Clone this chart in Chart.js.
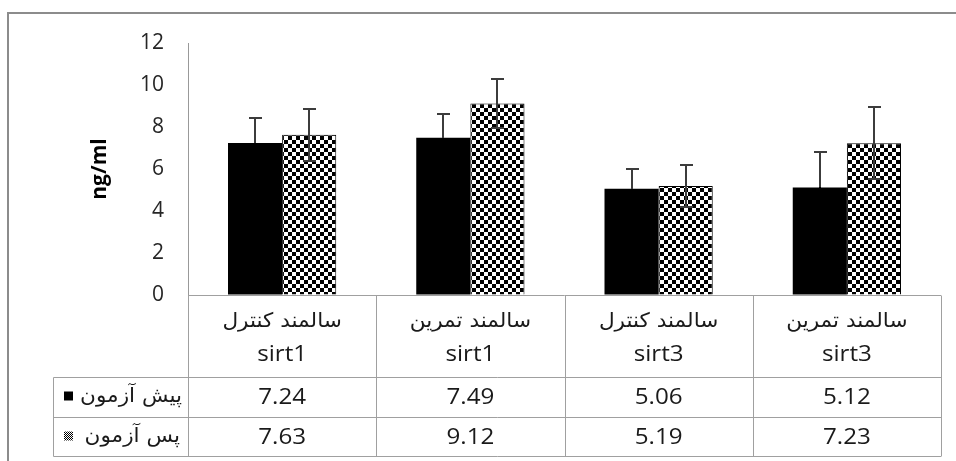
<!DOCTYPE html>
<html>
<head>
<meta charset="utf-8">
<script src="https://cdn.jsdelivr.net/npm/chart.js"></script>
<style>
  body { margin: 0; background: #fff; }
  #wrap { width: 956px; height: 461px; }
</style>
</head>
<body>
<div id="wrap"><canvas id="sirtChart" width="956" height="461"></canvas></div>
<script>
var groupLabels = ["سالمند کنترل", "سالمند تمرین", "سالمند کنترل", "سالمند تمرین"];
var geneLabels = ["sirt1", "sirt1", "sirt3", "sirt3"];
var seriesNames = ["پیش آزمون", "پس آزمون"];
var preValues = [7.24, 7.49, 5.06, 5.12];
var postValues = [7.63, 9.12, 5.19, 7.23];
var preErrors = [1.19, 1.13, 0.94, 1.69];
var postErrors = [1.23, 1.17, 1.00, 1.72];
var yMax = 12;
var yStep = 2;

var font = "'Open Sans', 'DejaVu Sans', sans-serif";
var arabicFont = "'DejaVu Sans', sans-serif";
var textColor = "#1a1a1a";
var lineColor = "#a0a0a0";

function checker(size) {
  var c = document.createElement("canvas");
  c.width = size * 2; c.height = size * 2;
  var g = c.getContext("2d");
  g.fillStyle = "#fff";
  g.fillRect(0, 0, size * 2, size * 2);
  g.fillStyle = "#000";
  g.fillRect(0, 0, size, size);
  g.fillRect(size, size, size, size);
  return document.getElementById("sirtChart").getContext("2d").createPattern(c, "repeat");
}
var bigChecker = checker(4);
var smallChecker = checker(1);

// draws text stretched sideways around its anchor
function wideText(ctx, txt, x, y, sx, align) {
  ctx.save();
  ctx.translate(x, y);
  ctx.scale(sx, 1);
  ctx.textAlign = align;
  ctx.fillText(txt, 0, 0);
  ctx.restore();
}

var errorBars = {
  id: "errorBars",
  afterDatasetsDraw: function(chart) {
    var ctx = chart.ctx;
    var y = chart.scales.y;
    var errs = [preErrors, postErrors];
    ctx.save();
    ctx.lineWidth = 2;
    chart.data.datasets.forEach(function(ds, i) {
      chart.getDatasetMeta(i).data.forEach(function(bar, j) {
        var v = ds.data[j];
        var top = Math.round(y.getPixelForValue(v + errs[i][j]));
        var mid = Math.round(y.getPixelForValue(v));
        var bot = Math.round(y.getPixelForValue(v - errs[i][j]));
        var x = Math.round(bar.x);
        ctx.strokeStyle = "#3c3c3c";
        ctx.beginPath();
        ctx.moveTo(x, top); ctx.lineTo(x, mid);
        ctx.moveTo(x - 6, top); ctx.lineTo(x + 7, top);
        ctx.stroke();
        // lower whisker: lost in the solid black bars
        ctx.strokeStyle = i === 0 ? "#000" : "#3c3c3c";
        ctx.beginPath();
        ctx.moveTo(x, mid); ctx.lineTo(x, bot);
        ctx.moveTo(x - 6, bot); ctx.lineTo(x + 7, bot);
        ctx.stroke();
      });
    });
    ctx.restore();
  }
};

var dataTable = {
  id: "dataTable",
  beforeDraw: function(chart) {
    var ctx = chart.ctx;
    ctx.save();
    ctx.strokeStyle = "#8c8c8c";
    ctx.lineWidth = 2;
    ctx.strokeRect(8, 13, 1000, 500);
    ctx.restore();
  },
  afterDraw: function(chart) {
    var ctx = chart.ctx;
    var xs = chart.scales.x;
    var area = chart.chartArea;
    var colW = (area.right - area.left) / groupLabels.length;
    var top = Math.round(area.bottom) + 0.5;
    var rowSplit = top + 82;
    var row2 = rowSplit + 40;
    var bottom = row2 + 39;
    var leftX = 53.5;
    ctx.save();
    ctx.strokeStyle = lineColor;
    ctx.lineWidth = 1;
    ctx.beginPath();
    ctx.moveTo(area.left, top); ctx.lineTo(area.right, top);
    [rowSplit, row2, bottom].forEach(function(yy) {
      ctx.moveTo(leftX, yy); ctx.lineTo(area.right, yy);
    });
    ctx.moveTo(leftX, rowSplit); ctx.lineTo(leftX, bottom);
    for (var k = 0; k <= groupLabels.length; k++) {
      var xx = Math.round(area.left + k * colW) + 0.5;
      ctx.moveTo(xx, top); ctx.lineTo(xx, bottom);
    }
    ctx.stroke();

    ctx.fillStyle = textColor;
    ctx.textBaseline = "middle";
    var rows = [preValues, postValues];
    groupLabels.forEach(function(lbl, j) {
      var cx = xs.getPixelForValue(j);
      ctx.font = "20px " + arabicFont;
      wideText(ctx, lbl, cx, top + 26, 1.08, "center");
      ctx.font = "22px " + font;
      wideText(ctx, geneLabels[j], cx, top + 59, 1.1, "center");
      rows.forEach(function(r, i) {
        wideText(ctx, r[j].toFixed(2), cx, (i === 0 ? rowSplit : row2) + 20, 1.1, "center");
      });
    });

    // series keys in the table's left cells
    ctx.font = "20px " + arabicFont;
    wideText(ctx, seriesNames[0], 182, rowSplit + 19, 1.08, "right");
    wideText(ctx, seriesNames[1], 180, row2 + 19, 1.08, "right");
    ctx.fillStyle = "#000";
    ctx.fillRect(64, rowSplit + 14, 9, 9);
    ctx.fillStyle = smallChecker;
    ctx.fillRect(64, row2 + 14, 9, 9);
    ctx.restore();
  }
};

new Chart("sirtChart", {
  type: "bar",
  data: {
    labels: groupLabels,
    datasets: [{
      label: seriesNames[0],
      data: preValues,
      backgroundColor: "#000",
      borderColor: "#000",
      borderWidth: 0
    }, {
      label: seriesNames[1],
      data: postValues,
      backgroundColor: bigChecker,
      borderColor: "#000",
      borderWidth: 1
    }]
  },
  options: {
    responsive: false,
    animation: false,
    categoryPercentage: 0.575,
    barPercentage: 1,
    layout: { padding: { left: 85, top: 43, right: 15, bottom: 166 } },
    plugins: {
      legend: { display: false },
      tooltip: { enabled: false }
    },
    scales: {
      x: { display: false },
      y: {
        min: 0,
        max: yMax,
        afterFit: function(s) { s.width = 103; },
        ticks: {
          stepSize: yStep,
          padding: 24,
          color: "#262626",
          font: { family: font, size: 21 }
        },
        grid: { color: "rgba(0,0,0,0)", drawTicks: false },
        border: { color: "#999", width: 1 },
        title: {
          display: true,
          text: "ng/ml",
          color: "#000",
          padding: 2,
          font: { family: font, size: 21, weight: "bold" }
        }
      }
    }
  },
  plugins: [errorBars, dataTable]
});
</script>
</body>
</html>
